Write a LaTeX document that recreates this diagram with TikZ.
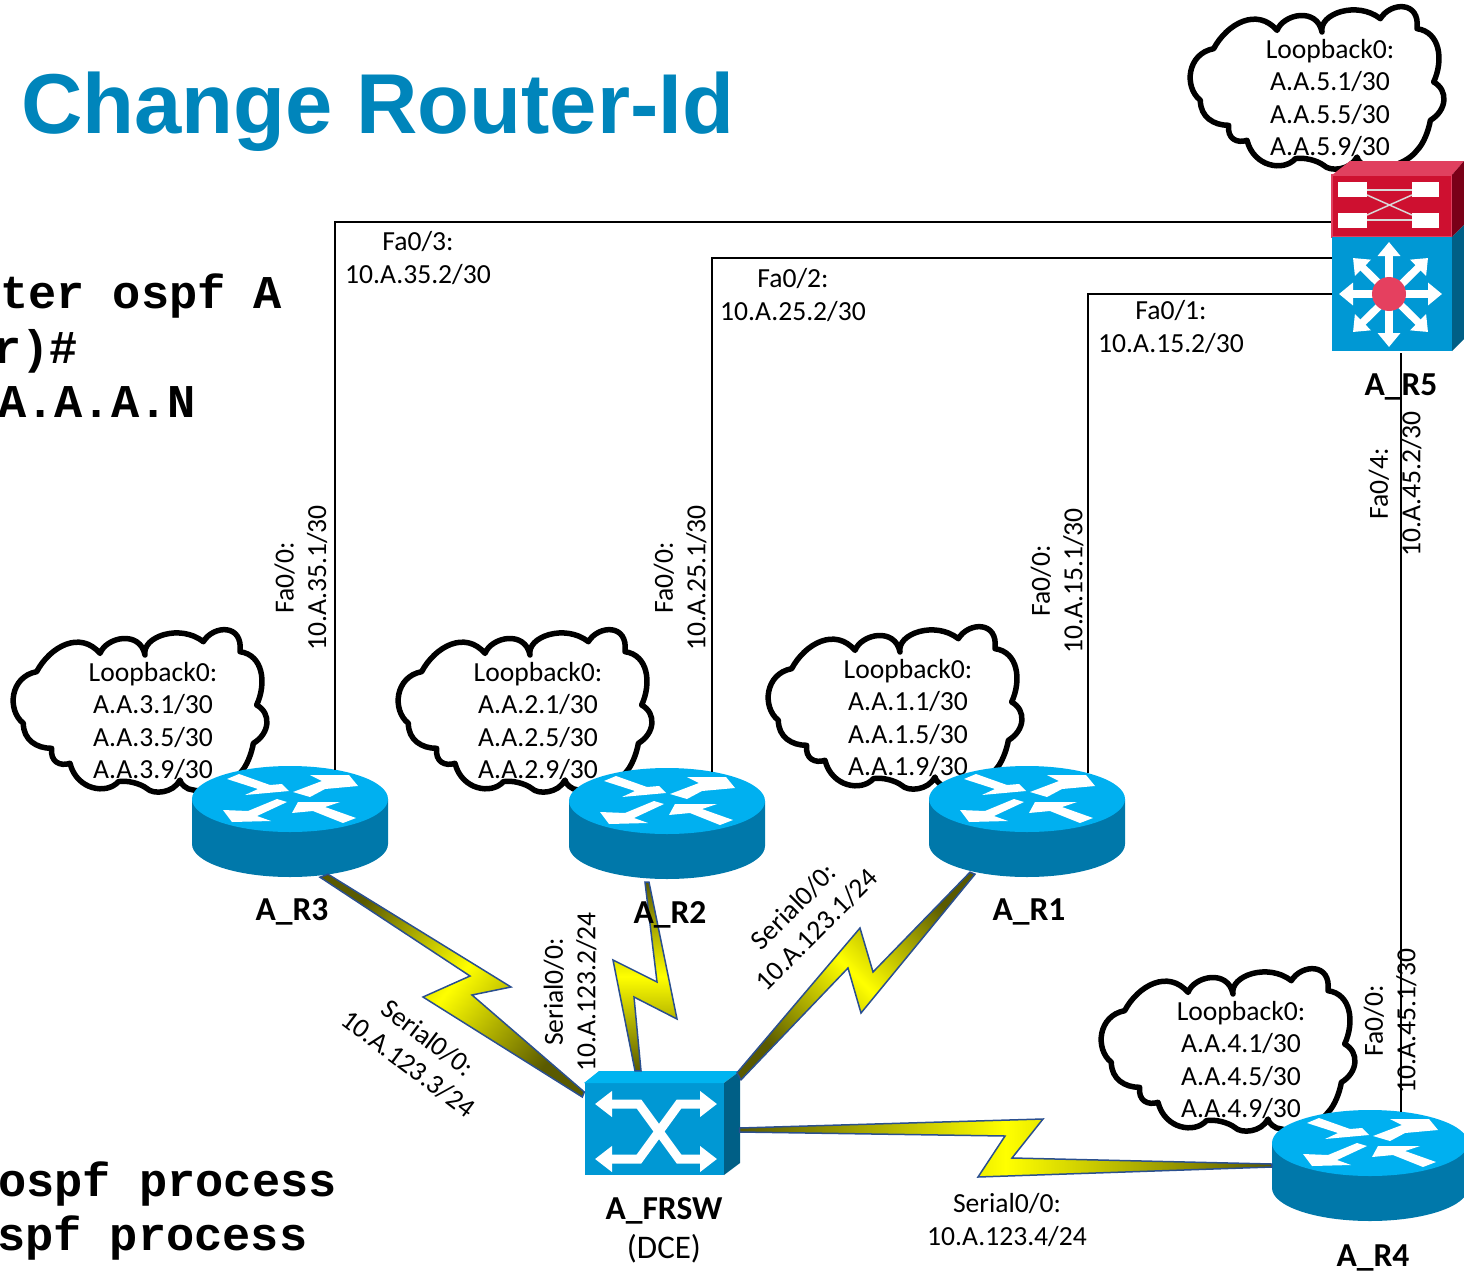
\documentclass[tikz,border=0pt]{standalone}
\usepackage{fontspec}
\setmainfont{Carlito}
\newfontfamily\titlefont{Liberation Sans}
\newfontfamily\cmdfont{Liberation Mono}
\usetikzlibrary{arrows.meta}
\definecolor{titleblue}{HTML}{0085BB}
\definecolor{routertop}{HTML}{00B0F0}
\definecolor{routerside}{HTML}{0078AA}
\definecolor{boxfront}{HTML}{0098D4}
\definecolor{boxtop}{HTML}{00B4F0}
\definecolor{boxside}{HTML}{005F86}
\definecolor{supfront}{HTML}{CE1030}
\definecolor{suptop}{HTML}{E0405F}
\definecolor{supside}{HTML}{7A0018}
\definecolor{hubred}{HTML}{E5405F}
\definecolor{boltend}{HTML}{5A5A00}
\definecolor{boltedge}{HTML}{2A4F8F}
\tikzset{
  lo cloud/.pic={
    \draw[line width=5.5pt,fill=white,line join=round,scale=1/3]
      (110,155) .. controls (150,80) and (240,30) .. (300,100)
      .. controls (320,50) and (420,30) .. (435,105)
      .. controls (425,50) and (540,10) .. (610,65)
      .. controls (640,15) and (730,10) .. (720,95)
      .. controls (790,105) and (800,190) .. (770,255)
      .. controls (815,280) and (810,340) .. (760,370)
      .. controls (755,400) and (740,440) .. (720,460)
      .. controls (690,500) and (620,520) .. (580,510)
      .. controls (560,510) and (540,490) .. (540,480)
      .. controls (520,520) and (460,525) .. (440,505)
      .. controls (420,490) and (380,480) .. (355,485)
      .. controls (320,525) and (230,510) .. (210,430)
      .. controls (180,440) and (150,425) .. (155,385)
      .. controls (110,385) and (70,360) .. (70,310)
      .. controls (20,270) and (30,170) .. (110,155) -- cycle;
    \node[lbl] (-txt) at (153,101) {Loopback0:\\A.A.#1.1/30\\A.A.#1.5/30\\A.A.#1.9/30};
  },
  router/.pic={
    \node[inner sep=0,minimum width=196pt,minimum height=112pt] (-box) at (0,23) {};
    \fill[routerside] (-98,0) -- (-98,45) arc[start angle=180,end angle=360,x radius=98,y radius=-33] -- (98,0) -- cycle;
    \fill[routertop] (0,0) ellipse[x radius=98,y radius=33];
    \fill[white] (-63,-20) -- (-51,-25) -- (-20,-14) -- (-8,-15) -- (-1,-8) -- (-45,-4) -- (-32,-10) -- cycle;
    \fill[white] (3,-7) -- (32,-18) -- (20,-24) -- (59,-24) -- (68,-13) -- (35,-10) -- (20,-2) -- cycle;
    \fill[white] (-3,3) -- (-13,0) -- (-42,12) -- (-67,11) -- (-58,23) -- (-19,22) -- (-33,17) -- cycle;
    \fill[white] (2,14) -- (8,3) -- (50,3) -- (35,8) -- (66,19) -- (53,24) -- (23,12) -- cycle;
  },
  frame relay/.pic={
    \node[inner sep=0,minimum width=139pt,minimum height=92pt,fill=boxfront] (-box) at (0,0) {};
    \fill[boxtop] (-70,-46) -- (-55,-58) -- (86,-58) -- (70,-46) -- cycle;
    \fill[boxside] (70,-46) -- (86,-58) -- (86,34) -- (70,46) -- cycle;
    \draw[lane] (-59,-25) -- (-15,-25) -- (25,30) -- (63,30);
    \draw[lane] (-59,30) -- (-15,30) -- (25,-25) -- (63,-25);
  },
  multilayer/.pic={
    \node[inner sep=0,minimum width=120pt,minimum height=62pt,fill=supfront,draw=suptop,line width=1.5pt] (-sup) at (0,-88) {};
    \node[inner sep=0,minimum width=120pt,minimum height=114pt,fill=boxfront] (-box) at (0,0) {};
    \fill[suptop] (-60,-119) -- (-42,-133) -- (72,-133) -- (60,-119) -- cycle;
    \fill[supside] (60,-119) -- (72,-133) -- (72,-69) -- (60,-57) -- cycle;
    \fill[boxside] (60,-57) -- (72,-69) -- (72,45) -- (60,57) -- cycle;
    \fill[white] (-54,-112) rectangle (-25,-97);
    \fill[white] (20,-112) rectangle (47,-97);
    \fill[white] (-54,-81) rectangle (-25,-66);
    \fill[white] (20,-81) rectangle (47,-66);
    \draw[white!85!black,line width=1.5pt] (-25,-104) -- (20,-104);
    \draw[white!85!black,line width=1.5pt] (-25,-74) -- (20,-74);
    \draw[white!85!black,line width=1.5pt] (-25,-99) -- (20,-79);
    \draw[white!85!black,line width=1.5pt] (-25,-79) -- (20,-99);
    \draw[spoke] (-53,0) -- (50,0);
    \draw[spoke] (-3,-52) -- (-3,53);
    \draw[spoke] (-39,-36) -- (36,38);
    \draw[spoke] (-39,38) -- (36,-36);
    \fill[hubred] (-3,0) circle[radius=17];
  },
  lane/.style={white,line width=9pt,{Triangle[width=25pt,length=17pt]}-{Triangle[width=25pt,length=17pt]}},
  spoke/.style={white,line width=7.5pt,{Triangle[width=22pt,length=14pt]}-{Triangle[width=22pt,length=14pt]}},
  lbl/.style={inner sep=0,align=center,font=\fontsize{27.6}{32.5}\selectfont},
  dev/.style={inner sep=0,font=\fontsize{33.5}{38}\selectfont\bfseries},
  cmd/.style={inner sep=0,anchor=base west,font=\fontsize{47}{47}\selectfont\cmdfont\bfseries,text=black},
  link/.style={line width=2pt},
  bolt/.style={draw=boltedge,line width=1.5pt,top color=boltend,bottom color=boltend,middle color=yellow}
}
\begin{document}
\begin{tikzpicture}[x=1pt,y=-1pt]
  \useasboundingbox (0,0) rectangle (1464,1271);

  \node[inner sep=0,anchor=base west,font=\fontsize{85}{85}\selectfont\titlefont\bfseries,text=titleblue] (title) at (21,134) {Change Router-Id};
  \node[cmd] (cmd1) at (0,308) {ter ospf A};
  \node[cmd] (cmd2) at (-7,363) {r)\#};
  \node[cmd] (cmd3) at (-2,417) {A.A.A.N};
  \node[cmd] (cmd4) at (-2,1196) {ospf process};
  \node[cmd] (cmd5) at (-3,1250) {spf process};

  \pic (c3) at (0,620) {lo cloud={3}};
  \pic (c2) at (385,620) {lo cloud={2}};
  \pic (c1) at (755,617) {lo cloud={1}};
  \pic (c4) at (1088,959) {lo cloud={4}};
  \pic (c5) at (1177,-3) {lo cloud={5}};

  \pic (r3) at (290,799) {router};
  \pic (r2) at (667,801) {router};
  \pic (r1) at (1027,799) {router};
  \pic (r4) at (1370,1143) {router};
  \pic (frsw) at (654,1129) {frame relay};
  \pic (r5) at (1392,294) {multilayer};

  \draw[link] ([shift={(45,4)}]r3-box.north) |- ([shift={(0,16)}]r5-sup.west);
  \draw[link] ([shift={(45,4)}]r2-box.north) |- ([shift={(0,-36)}]r5-box.west);
  \draw[link] ([shift={(61,7)}]r1-box.north) |- (r5-box.west);
  \draw[link] ([shift={(9,2)}]r5-box.south) -- ([shift={(31,2)}]r4-box.north);

  \path[bolt,shading angle=50] ([shift={(38,-4)}]r3-box.south) -- (511,987) -- (472,995) -- ([shift={(0,-37)}]frsw-box.west) -- ([shift={(-2,-32)}]frsw-box.west) -- (423,997) -- (470,976) -- ([shift={(30,-1)}]r3-box.south) -- cycle;
  \path[bolt] ([shift={(-18,2)}]r2-box.south) -- (677,1019) -- (634,997) -- ([shift={(-13,-12)}]frsw-box.north) -- ([shift={(-19,-12)}]frsw-box.north) -- (613,960) -- (657,982) -- ([shift={(-22,2)}]r2-box.south) -- cycle;
  \path[bolt,shading angle=-45] ([shift={(-57,-6)}]r1-box.south) -- (873,972) -- (860,928) -- ([shift={(83,-10)}]frsw-box.north) -- ([shift={(87,-3)}]frsw-box.north) -- (848,968) -- (861,1013) -- ([shift={(-52,-4)}]r1-box.south) -- cycle;
  \path[bolt,shading angle=90] ([shift={(16,-1)}]frsw-box.east) -- (1043,1119) -- (1012,1158) -- ([shift={(0,-2)}]r4-box.west) -- ([shift={(0,1)}]r4-box.west) -- (978,1177) -- (1005,1136) -- ([shift={(16,3)}]frsw-box.east) -- cycle;

  \node[lbl] (l35) at (418,258) {Fa0/3:\\10.A.35.2/30};
  \node[lbl] (l25) at (793,295) {Fa0/2:\\10.A.25.2/30};
  \node[lbl] (l15) at (1171,327) {Fa0/1:\\10.A.15.2/30};
  \node[lbl,rotate=90] (l31) at (301,578) {Fa0/0:\\10.A.35.1/30};
  \node[lbl,rotate=90] (l21) at (680,578) {Fa0/0:\\10.A.25.1/30};
  \node[lbl,rotate=90] (l11) at (1057,581) {Fa0/0:\\10.A.15.1/30};
  \node[lbl,rotate=90] (l45) at (1395,484) {Fa0/4:\\10.A.45.2/30};
  \node[lbl,rotate=90] (l41) at (1390,1021) {Fa0/0:\\10.A.45.1/30};
  \node[lbl,rotate=-37] (s3) at (418,1051) {Serial0/0:\\10.A.123.3/24};
  \node[lbl,rotate=90] (s2) at (570,992) {Serial0/0:\\10.A.123.2/24};
  \node[lbl,rotate=45] (s1) at (805,918) {Serial0/0:\\10.A.123.1/24};
  \node[lbl] (s4) at (1007,1220) {Serial0/0:\\10.A.123.4/24};

  \node[dev] (n3) at (292,912) {A\_R3};
  \node[dev] (n2) at (670,915) {A\_R2};
  \node[dev] (n1) at (1029,912) {A\_R1};
  \node[dev] (n5) at (1401,387) {A\_R5};
  \node[dev] (n4) at (1373,1258) {A\_R4};
  \node[dev] (nf) at (664,1211) {A\_FRSW};
  \node[inner sep=0,font=\fontsize{33}{38}\selectfont] (nd) at (664,1249) {(DCE)};
\end{tikzpicture}
\end{document}
